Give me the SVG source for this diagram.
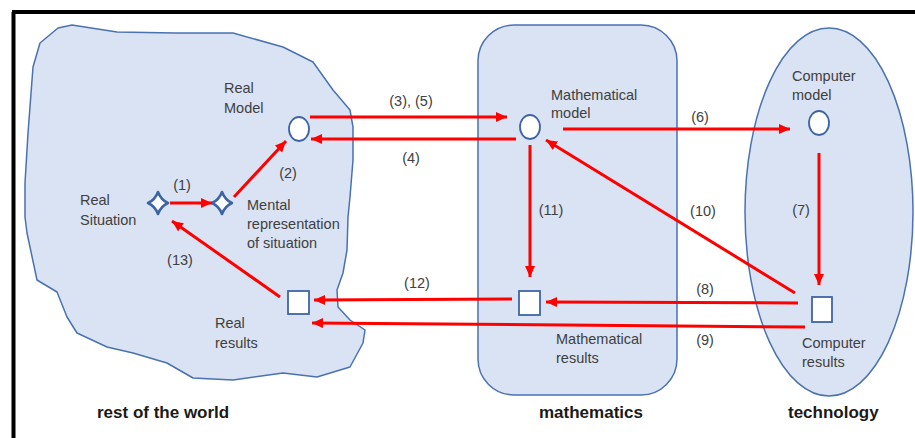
<svg xmlns="http://www.w3.org/2000/svg" width="915" height="438" viewBox="0 0 915 438">
<defs>
<style>
.area{fill:#dae3f3;stroke:#4a72b0;stroke-width:1.5}
.node{fill:#ffffff;stroke:#3f64a6;stroke-width:1.8}
.star{fill:#ffffff;stroke:#3f64a6;stroke-width:2.6;stroke-linejoin:round}
.lbl{font-family:"Liberation Sans",Arial,sans-serif;font-size:14.5px;fill:#404040}
.big{font-family:"Liberation Sans",Arial,sans-serif;font-size:17px;font-weight:bold;fill:#1a1a1a}
.arr{stroke:#ff0000;stroke-width:3;fill:none;marker-end:url(#ah)}
</style>
<marker id="ah" markerUnits="userSpaceOnUse" markerWidth="12" markerHeight="11" refX="11" refY="5" orient="auto">
<path d="M0,0 L11,5 L0,10 Z" fill="#ff0000"/>
</marker>
</defs>
<rect x="0" y="0" width="915" height="438" fill="#ffffff"/>
<path d="M12,12 H915 M13.5,12 V438" stroke="#000000" stroke-width="4" fill="none"/>

<g id="world">
<path class="area" d="M58,28 L72,25 L117,32 L175,33 L233,33 L283,47 L313,62 L333,90 L350,110 L353,127 L353,160 L350,197 L348,217 L347,250 L343,273 L337,290 L338,307 L350,320 L365,330 L363,343 L350,367 L317,377 L283,373 L233,380 L193,378 L167,363 L133,353 L107,347 L77,333 L67,317 L57,292 L37,280 L27,233 L25,217 L25,183 L28,133 L33,67 L40,43 Z" stroke-linejoin="round"/>
<text class="big" x="97" y="418">rest of the world</text>
</g>
<g id="mathematics">
<rect class="area" x="478" y="25" width="199" height="370" rx="36" ry="36"/>
<text class="big" x="539" y="418">mathematics</text>
</g>
<g id="technology">
<ellipse class="area" cx="829" cy="212" rx="84" ry="184"/>
<text class="big" x="788" y="418">technology</text>
</g>

<g id="real-situation">
<path class="star" d="M158,192 Q161,200 168,203 Q161,206 158,214 Q155,206 148,203 Q155,200 158,192 Z"/>
<text class="lbl" x="80" y="205">Real</text>
<text class="lbl" x="80" y="225">Situation</text>
</g>
<g id="mental-representation">
<path class="star" d="M222,192 Q225,200 232,203 Q225,206 222,214 Q219,206 212,203 Q219,200 222,192 Z"/>
<text class="lbl" x="247" y="210">Mental</text>
<text class="lbl" x="247" y="229">representation</text>
<text class="lbl" x="247" y="248">of situation</text>
</g>
<g id="real-model">
<ellipse class="node" cx="299" cy="129" rx="10" ry="12"/>
<text class="lbl" x="224" y="93">Real</text>
<text class="lbl" x="224" y="113">Model</text>
</g>
<g id="real-results">
<rect class="node" x="288" y="291" width="21" height="23"/>
<text class="lbl" x="215" y="328">Real</text>
<text class="lbl" x="215" y="348">results</text>
</g>
<g id="mathematical-model">
<ellipse class="node" cx="530" cy="127" rx="10" ry="12"/>
<text class="lbl" x="551" y="100">Mathematical</text>
<text class="lbl" x="551" y="118">model</text>
</g>
<g id="mathematical-results">
<rect class="node" x="519" y="291" width="21" height="24"/>
<text class="lbl" x="556" y="344">Mathematical</text>
<text class="lbl" x="556" y="363">results</text>
</g>
<g id="computer-model">
<ellipse class="node" cx="819" cy="123" rx="10" ry="12"/>
<text class="lbl" x="792" y="81">Computer</text>
<text class="lbl" x="792" y="100">model</text>
</g>
<g id="computer-results">
<rect class="node" x="812" y="297" width="20" height="25"/>
<text class="lbl" x="802" y="348">Computer</text>
<text class="lbl" x="802" y="367">results</text>
</g>

<g id="connectors">
<line class="arr" x1="170" y1="203" x2="212" y2="203"/>
<line class="arr" x1="234" y1="197" x2="286" y2="141"/>
<line class="arr" x1="310" y1="117" x2="507" y2="117"/>
<line class="arr" x1="516" y1="139" x2="311" y2="139"/>
<line class="arr" x1="563" y1="129" x2="790" y2="129"/>
<line class="arr" x1="819" y1="153" x2="819" y2="285"/>
<line class="arr" x1="798" y1="303" x2="546" y2="302"/>
<line class="arr" x1="805" y1="327" x2="312" y2="323"/>
<line class="arr" x1="795" y1="293" x2="546" y2="140"/>
<line class="arr" x1="530" y1="145" x2="530" y2="277"/>
<line class="arr" x1="512" y1="299" x2="314" y2="300"/>
<line class="arr" x1="280" y1="297" x2="172" y2="221"/>
<g class="lbl">
<text x="182" y="190" text-anchor="middle">(1)</text>
<text x="288" y="178" text-anchor="middle">(2)</text>
<text x="411" y="106" text-anchor="middle">(3), (5)</text>
<text x="411" y="163" text-anchor="middle">(4)</text>
<text x="700" y="122" text-anchor="middle">(6)</text>
<text x="801" y="215" text-anchor="middle">(7)</text>
<text x="705" y="294" text-anchor="middle">(8)</text>
<text x="705" y="345" text-anchor="middle">(9)</text>
<text x="703" y="216" text-anchor="middle">(10)</text>
<text x="551" y="215" text-anchor="middle">(11)</text>
<text x="417" y="288" text-anchor="middle">(12)</text>
<text x="180" y="265" text-anchor="middle">(13)</text>
</g>
</g>
</svg>
